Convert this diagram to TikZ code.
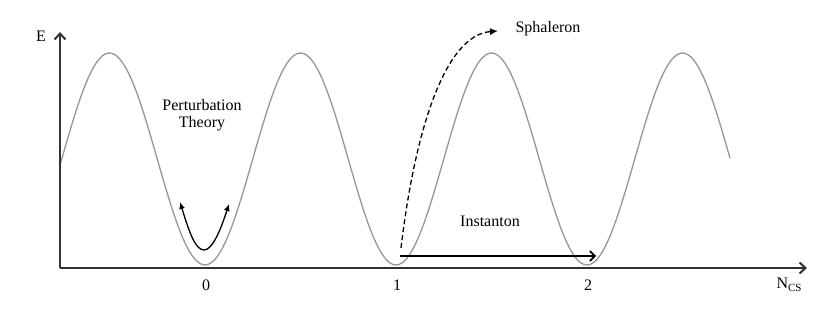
\documentclass[tikz,border=0pt]{standalone}
\usepackage{fontspec}
\setmainfont{Liberation Serif}
\usetikzlibrary{arrows.meta}
\definecolor{curvegray}{RGB}{150,150,150}
\definecolor{axisgray}{RGB}{50,50,50}
\tikzset{
  lbl/.style={font=\fontsize{16}{19}\selectfont, inner sep=1pt},
  axisline/.style={draw=axisgray, line width=1.3pt, -{Straight Barb[length=6pt,width=11pt,line width=2pt]}},
  potential/.style={draw=curvegray, line width=1.3pt},
  blackarrow/.style={draw=black, line width=1.3pt},
}
\begin{document}
\begin{tikzpicture}[x=1pt,y=-1pt]
\useasboundingbox (0,0) rectangle (830,324);
\coordinate (origin) at (60,268);
\coordinate (ytip) at (60,32);
\coordinate (xtip) at (807,268);
% potential
\draw[potential] plot[domain=60:730, samples=240, smooth] (\x, {159+106*cos(1.884817*(\x-205))});
% axes
\draw[axisline] (origin) -- (ytip);
\draw[axisline] (origin) -- (xtip);
% labels
\node[lbl] (E) at (41,36) {E};
\node[lbl] (ncs) at (789,285) {N\raisebox{-0.35ex}{\fontsize{11}{12}\selectfont CS}};
\node[lbl] (t0) at (206,285) {0};
\node[lbl] (t1) at (397,285) {1};
\node[lbl] (t2) at (588,285) {2};
\node[lbl, align=center] (pert) at (202,115) {Perturbation\\[-2pt]Theory};
\node[lbl] (sph) at (548,29) {Sphaleron};
\node[lbl] (inst) at (490,221) {Instanton};
% perturbation arrow
\coordinate (pl) at (180,202);
\coordinate (pb) at (204,250);
\coordinate (pr) at (229,204);
\draw[blackarrow, {Latex[length=7pt,width=6pt]}-{Latex[length=7pt,width=6pt]}]
  (pl) .. controls (190,235) and (196,250) .. (pb) .. controls (212,250) and (220,232) .. (pr);
% sphaleron arrow
\coordinate (ss) at (401,248);
\coordinate (se) at (498,31);
\draw[blackarrow, dash pattern=on 5pt off 3pt, -{Latex[length=8pt,width=7pt]}]
  (ss) .. controls (415,130) and (445,35) .. (se);
% instanton arrow
\coordinate (is) at (400,256);
\coordinate (ie) at (596,256);
\draw[blackarrow, line width=1.1pt, -{Straight Barb[length=5pt,width=10pt,line width=1.6pt]}] (is) -- (ie);
\end{tikzpicture}
\end{document}
